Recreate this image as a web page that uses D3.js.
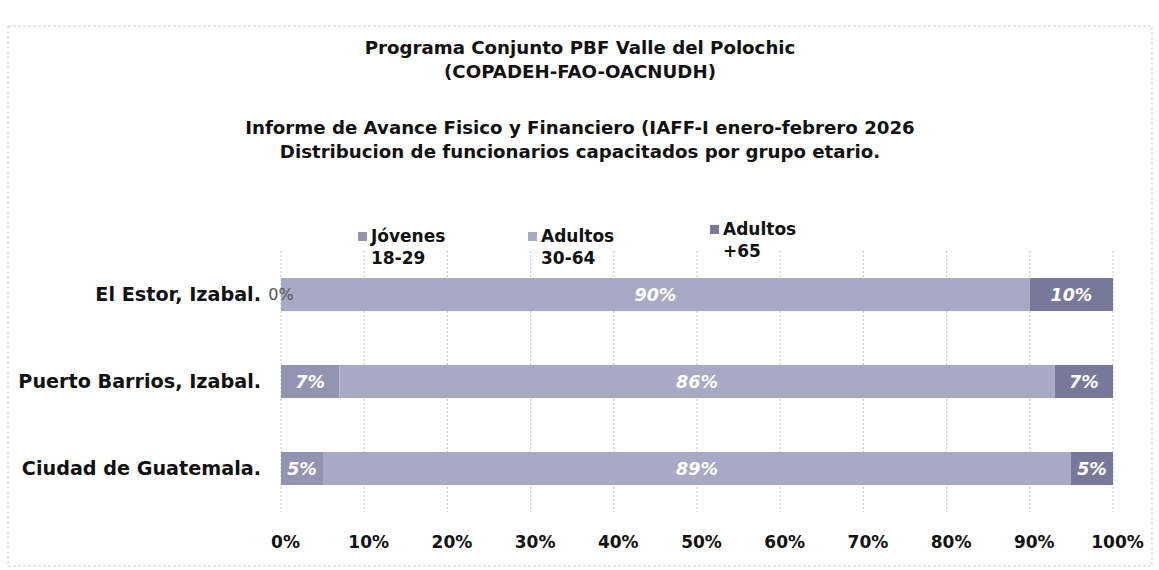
<!DOCTYPE html>
<html>
<head>
<meta charset="utf-8">
<script src="https://cdn.jsdelivr.net/npm/d3@7/dist/d3.min.js"></script>
<style>
  html, body { margin: 0; padding: 0; background: #ffffff; }
  svg { display: block; }
  text { font-family: "DejaVu Sans", Lato, sans-serif; }
</style>
</head>
<body>
<svg id="chart" width="1159" height="570"></svg>
<script>
const titleLines = [
  "Programa Conjunto PBF Valle del Polochic",
  "(COPADEH-FAO-OACNUDH)",
  "Informe de Avance Fisico y Financiero (IAFF-I enero-febrero 2026",
  "Distribucion de funcionarios capacitados por grupo etario."
];
const categories = ["El Estor, Izabal.", "Puerto Barrios, Izabal.", "Ciudad de Guatemala."];
const seriesNames = [["Jóvenes", "18-29"], ["Adultos", "30-64"], ["Adultos", "+65"]];
const jovenes = [0, 7, 5];
const adultos = [90, 86, 89];
const mayores = [10, 7, 5];
const tickValues = [0, 0.1, 0.2, 0.3, 0.4, 0.5, 0.6, 0.7, 0.8, 0.9, 1.0];
const colors = ["#9394b2", "#a8aac5", "#77789a"];

const svg = d3.select("#chart");

// outer faint border
svg.append("rect").attr("x", 8).attr("y", 26).attr("width", 1144).attr("height", 540)
  .attr("fill", "none").attr("stroke", "#d0d0d0").attr("stroke-dasharray", "3,2");

// titles
const titleY = [49, 73, 129, 153];
svg.selectAll("text.title").data(titleLines).join("text")
  .attr("class", "title")
  .attr("x", 580).attr("y", (d, i) => titleY[i])
  .attr("text-anchor", "middle").attr("dominant-baseline", "middle")
  .attr("font-size", 18.2).attr("font-weight", 700).attr("fill", "#111")
  .text(d => d);

const x = d3.scaleLinear().domain([0, 1]).range([281, 1113]);
const y = d3.scaleBand().domain(categories).range([251, 512]).paddingInner(0.62).paddingOuter(0.31);

// gridlines
svg.append("g").selectAll("line").data(tickValues).join("line")
  .attr("x1", d => x(d)).attr("x2", d => x(d))
  .attr("y1", 251).attr("y2", 512)
  .attr("stroke", "#c4c4c4").attr("stroke-width", 1).attr("stroke-dasharray", "2,2");

// stack data (100% stacked)
const rows = categories.map((c, i) => {
  const tot = jovenes[i] + adultos[i] + mayores[i];
  return { cat: c, j: jovenes[i] / tot, a: adultos[i] / tot, m: mayores[i] / tot,
           lj: jovenes[i], la: adultos[i], lm: mayores[i] };
});
const series = d3.stack().keys(["j", "a", "m"])(rows);
const labelKeys = { j: "lj", a: "la", m: "lm" };

series.forEach((s, si) => {
  svg.append("g").selectAll("rect").data(s).join("rect")
    .attr("x", d => x(d[0])).attr("width", d => x(d[1]) - x(d[0]))
    .attr("y", d => y(d.data.cat)).attr("height", y.bandwidth())
    .attr("fill", colors[si]);
});
series.forEach((s, si) => {
  svg.append("g").selectAll("text").data(s).join("text")
    .attr("x", d => (x(d[0]) + x(d[1])) / 2)
    .attr("y", d => y(d.data.cat) + y.bandwidth() / 2 + 1)
    .attr("text-anchor", "middle")
    .attr("dominant-baseline", "middle")
    .attr("font-size", d => d.data[labelKeys[s.key]] === 0 ? 16 : 17.5)
    .attr("font-weight", d => d.data[labelKeys[s.key]] === 0 ? 400 : 700)
    .attr("font-style", d => d.data[labelKeys[s.key]] === 0 ? "normal" : "oblique")
    .attr("fill", d => d.data[labelKeys[s.key]] === 0 ? "#555" : "#ffffff")
    .text(d => d.data[labelKeys[s.key]] + "%");
});

// category axis labels
svg.append("g").selectAll("text").data(categories).join("text")
  .attr("x", 261).attr("y", d => y(d) + y.bandwidth() / 2 + 1)
  .attr("text-anchor", "end").attr("dominant-baseline", "middle")
  .attr("font-size", 19.2).attr("font-weight", 700).attr("fill", "#111")
  .text(d => d);

// x axis
const xAxis = d3.axisBottom(x).tickValues(tickValues).tickFormat(d3.format(".0%")).tickSize(0).tickPadding(0);
const ax = svg.append("g").attr("transform", "translate(4,536)").call(xAxis);
ax.select(".domain").remove();
ax.selectAll("text").attr("font-size", 17).attr("font-weight", 700).attr("fill", "#111")
  .attr("font-family", "'DejaVu Sans', Lato, sans-serif");

// legend
const legX = [358, 528, 710];
const leg = svg.append("g");
seriesNames.forEach((nm, i) => {
  const g = leg.append("g").attr("transform", `translate(${legX[i]},${i === 2 ? 230 : 237})`);
  g.append("rect").attr("x", 0).attr("y", -5).attr("width", 9).attr("height", 9).attr("fill", colors[i]);
  g.append("text").attr("x", 13).attr("y", 0).attr("dominant-baseline", "middle")
    .attr("font-size", 17).attr("font-weight", 700).attr("fill", "#111").text(nm[0]);
  g.append("text").attr("x", 13).attr("y", 22).attr("dominant-baseline", "middle")
    .attr("font-size", 17).attr("font-weight", 700).attr("fill", "#111").text(nm[1]);
});
</script>
</body>
</html>
